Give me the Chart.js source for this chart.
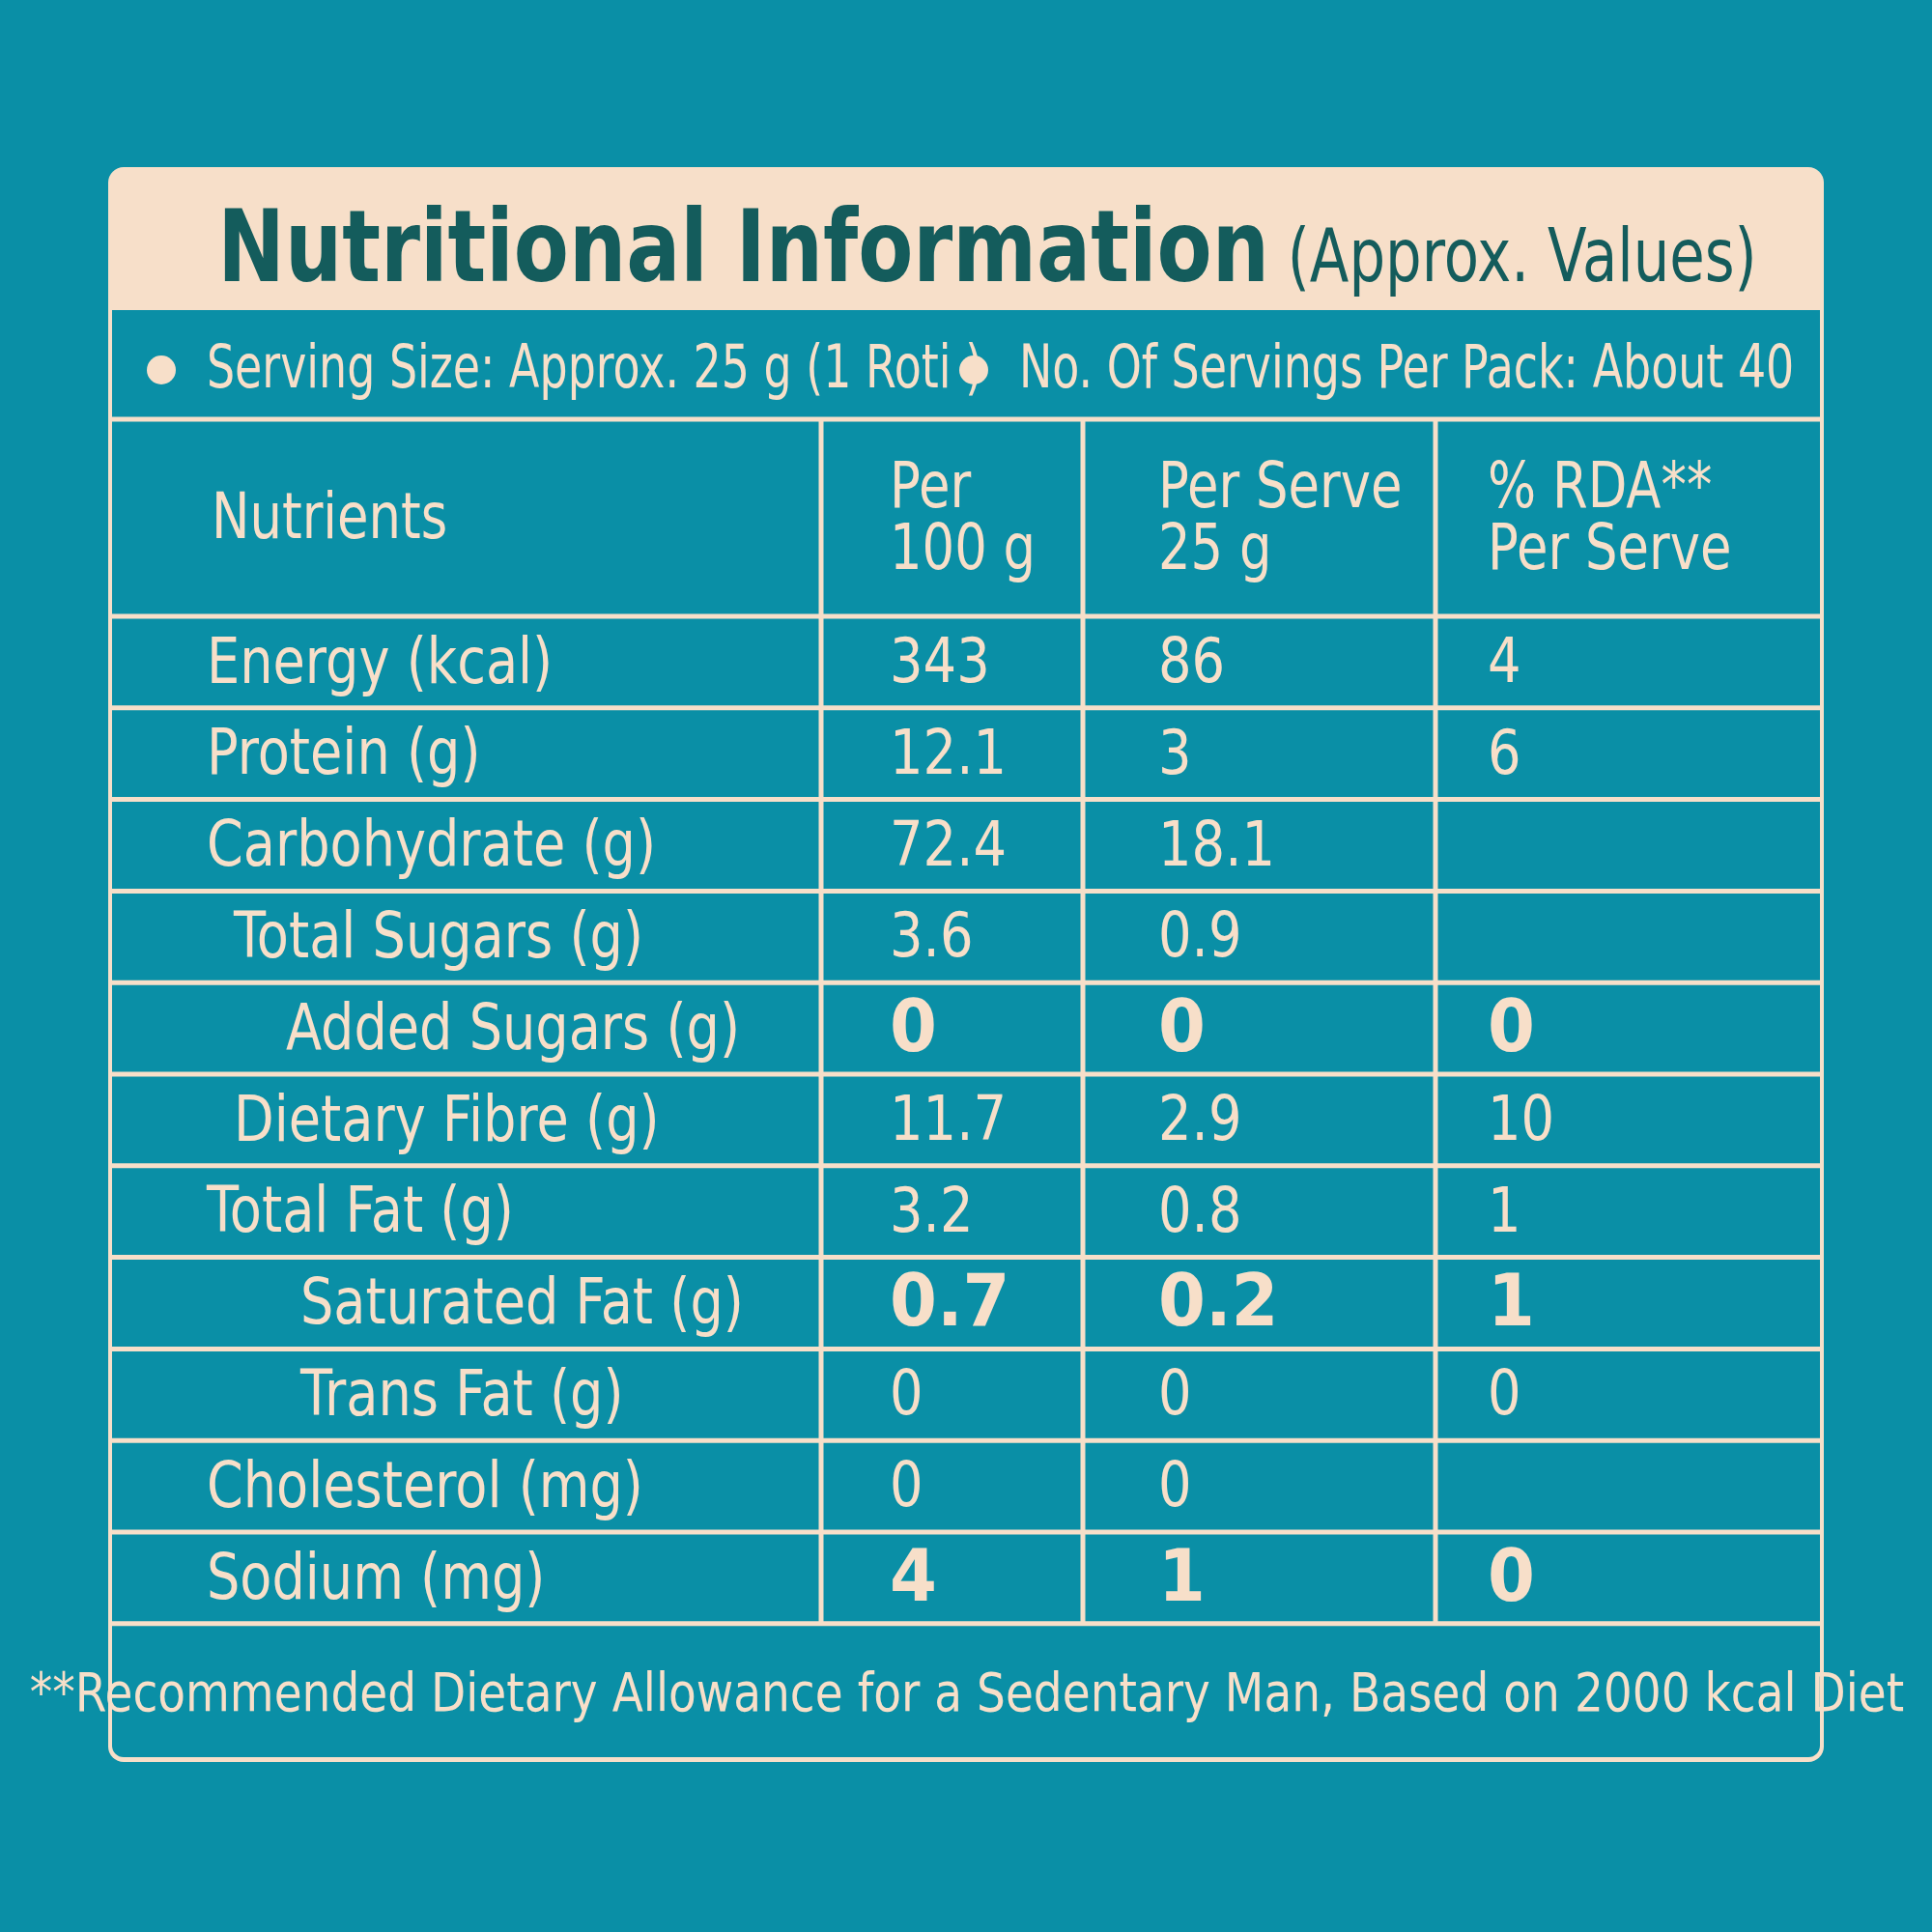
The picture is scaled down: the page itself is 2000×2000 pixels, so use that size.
<!DOCTYPE html>
<html lang="en">
<head>
<meta charset="UTF-8">
<title>Nutritional Information</title>
<script src="https://cdn.jsdelivr.net/npm/chart.js"></script>
<style>
    body { margin: 0; background: #0a8fa6; }
    canvas { display: block; }
</style>
</head>
<body>
<canvas id="chart" width="2000" height="2000"></canvas>
<script>
    const nutrients = ['Energy (kcal)', 'Protein (g)', 'Carbohydrate (g)', 'Total Sugars (g)', 'Added Sugars (g)',
        'Dietary Fibre (g)', 'Total Fat (g)', 'Saturated Fat (g)', 'Trans Fat (g)', 'Cholesterol (mg)', 'Sodium (mg)'];
    const indentLevel = [0, 0, 0, 1, 2, 1, 0, 3, 3, 0, 0];
    const per100g = ['343', '12.1', '72.4', '3.6', '0', '11.7', '3.2', '0.7', '0', '0', '4'];
    const perServe = ['86', '3', '18.1', '0.9', '0', '2.9', '0.8', '0.2', '0', '0', '1'];
    const rdaPerServe = ['4', '6', '', '', '0', '10', '1', '1', '0', '', '0'];
    const boldRows = [false, false, false, false, true, false, false, true, false, false, true];
    const headers = [['Nutrients'], ['Per', '100 g'], ['Per Serve', '25 g'], ['% RDA**', 'Per Serve']];
    const servingSize = 'Serving Size: Approx. 25 g (1 Roti )';
    const servingsPerPack = 'No. Of Servings Per Pack: About 40';
    const footnote = '**Recommended Dietary Allowance for a Sedentary Man, Based on 2000 kcal Diet';

    const CREAM = '#f7dfc9', TEAL = '#0a8fa6', DARK = '#145c5c';
    const FONT = '"DejaVu Sans", sans-serif';
    // panel spans x 0..1776, y 0..1651 (scale units = pixels within panel)
    const colEdges = [0, 738, 1009, 1374, 1776];
    const colText = [0, 809, 1087, 1428];
    const indentX = [102, 130, 184, 199];
    const titleBottom = 148, servingBottom = 261, headerBottom = 465, rowH = 94.8;
    const rowTop = i => headerBottom + i * rowH;

    // condensed text: squeeze horizontally
    function drawText(ctx, txt, x, y, sx) {
        ctx.save();
        ctx.translate(x, y);
        ctx.scale(sx, 1);
        ctx.fillText(txt, 0, 0);
        ctx.restore();
    }

    const tablePlugin = {
        id: 'table',
        afterDraw(chart) {
            const ctx = chart.ctx;
            const X = v => chart.scales.x.getPixelForValue(v);
            const Y = v => chart.scales.y.getPixelForValue(v);
            const bottom = rowTop(nutrients.length);
            ctx.save();
            ctx.fillStyle = CREAM;
            ctx.beginPath();
            ctx.roundRect(X(0), Y(0), X(1776) - X(0), Y(1651) - Y(0), 16);
            ctx.fill();
            ctx.fillStyle = TEAL;
            ctx.beginPath();
            ctx.roundRect(X(4), Y(titleBottom), X(1772) - X(4), Y(1646) - Y(titleBottom), [0, 0, 12, 12]);
            ctx.fill();
            ctx.strokeStyle = CREAM;
            ctx.lineWidth = 5;
            ctx.beginPath();
            [servingBottom, ...nutrients.map((n, i) => rowTop(i)), bottom].forEach(y => {
                ctx.moveTo(X(0), Y(y)); ctx.lineTo(X(1776), Y(y));
            });
            colEdges.slice(1, 4).forEach(x => { ctx.moveTo(X(x), Y(servingBottom)); ctx.lineTo(X(x), Y(bottom)); });
            ctx.stroke();
            // title
            ctx.fillStyle = DARK;
            ctx.textBaseline = 'alphabetic';
            const t1 = 'Nutritional Information', t2 = ' (Approx. Values)';
            const s1 = 0.8, s2 = 0.78;
            ctx.font = 'bold 104px ' + FONT;
            const w1 = ctx.measureText(t1).width * s1;
            ctx.font = '76px ' + FONT;
            const w2 = ctx.measureText(t2).width * s2;
            const tx = X(910) - (w1 + w2) / 2;
            ctx.font = 'bold 104px ' + FONT;
            drawText(ctx, t1, tx, Y(118), s1);
            ctx.font = '76px ' + FONT;
            drawText(ctx, t2, tx + w1, Y(118), s2);
            // serving row
            ctx.fillStyle = CREAM;
            ctx.textBaseline = 'middle';
            [[55, servingSize], [896, servingsPerPack]].forEach(([x, s]) => {
                ctx.beginPath(); ctx.arc(X(x), Y(210), 15, 0, Math.PI * 2); ctx.fill();
                ctx.font = '62px ' + FONT;
                drawText(ctx, s, X(x + 47), Y(212), 0.74);
            });
            // headers
            ctx.font = '66px ' + FONT;
            headers.forEach((lines, c) => {
                const x = c === 0 ? 107 : colText[c];
                const mid = (servingBottom + headerBottom) / 2 + 4;
                lines.forEach((l, k) => {
                    const y = lines.length === 1 ? mid : mid + (k - 0.5) * 64;
                    drawText(ctx, l, X(x), Y(y), 0.8);
                });
            });
            // data rows
            nutrients.forEach((name, i) => {
                const y = rowTop(i) + rowH / 2 + 4;
                ctx.font = '66px ' + FONT;
                drawText(ctx, name, X(indentX[indentLevel[i]]), Y(y), 0.82);
                ctx.font = boldRows[i] ? 'bold 74px ' + FONT : '64px ' + FONT;
                [per100g, perServe, rdaPerServe].forEach((arr, c) =>
                    drawText(ctx, arr[i], X(colText[c + 1]), Y(y), boldRows[i] ? 0.95 : 0.85));
            });
            // footnote
            ctx.font = '56px ' + FONT;
            ctx.textAlign = 'center';
            drawText(ctx, footnote, X(889), Y((bottom + 1651) / 2 + 4), 0.84);
            ctx.restore();
        }
    };

    new Chart(document.getElementById('chart'), {
        type: 'scatter',
        data: { datasets: [{ data: [] }] },
        options: {
            responsive: false,
            animation: false,
            devicePixelRatio: 1,
            layout: { padding: { left: 112, right: 112, top: 173, bottom: 176 } },
            plugins: { legend: { display: false }, tooltip: { enabled: false } },
            scales: {
                x: { type: 'linear', min: 0, max: 1776, display: false },
                y: { type: 'linear', min: 0, max: 1651, reverse: true, display: false }
            }
        },
        plugins: [tablePlugin]
    });
</script>
</body>
</html>
